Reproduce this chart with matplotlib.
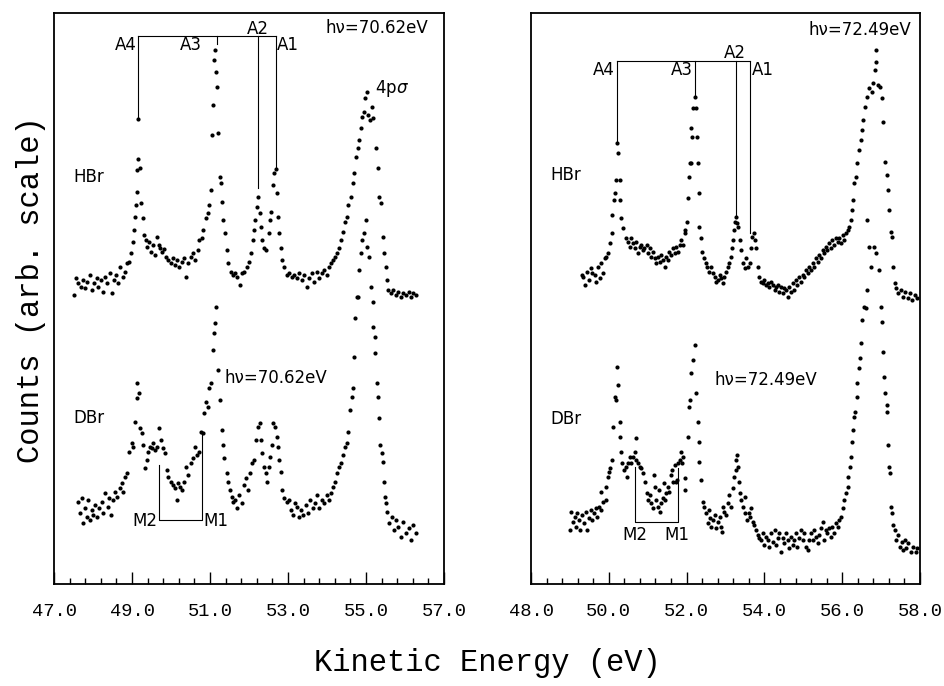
import matplotlib
matplotlib.use("Agg")
import matplotlib.pyplot as plt
from matplotlib.ticker import MultipleLocator, FormatStrFormatter

# ---- data: (kinetic energy eV, counts arb.) ----
hbr_left = [
    (47.50, 289), (47.56, 306), (47.62, 301), (47.68, 297), (47.75, 304), (47.79, 296),
    (47.85, 302), (47.92, 309), (47.97, 294), (48.03, 301), (48.09, 306), (48.14, 297),
    (48.20, 304), (48.26, 292), (48.31, 307), (48.37, 301), (48.44, 311), (48.48, 291),
    (48.54, 304), (48.59, 309), (48.65, 301), (48.69, 317), (48.76, 307), (48.82, 312),
    (48.88, 321), (48.93, 322), (48.97, 331), (49.02, 342), (49.06, 354), (49.08, 367),
    (49.10, 379), (49.12, 392), (49.14, 414), (49.16, 425), (49.15, 465), (49.21, 416),
    (49.24, 381), (49.27, 366), (49.31, 349), (49.36, 344), (49.39, 337), (49.44, 342),
    (49.49, 332), (49.55, 339), (49.59, 329), (49.63, 347), (49.68, 339), (49.72, 336),
    (49.77, 332), (49.82, 335), (49.87, 327), (49.93, 324), (49.99, 321), (50.04, 326),
    (50.10, 319), (50.15, 324), (50.21, 317), (50.27, 322), (50.33, 326), (50.38, 307),
    (50.44, 321), (50.50, 327), (50.56, 331), (50.62, 324), (50.68, 334), (50.73, 344),
    (50.79, 346), (50.83, 354), (50.89, 366), (50.94, 371), (50.98, 379), (51.02, 394),
    (51.04, 449), (51.07, 479), (51.10, 524), (51.13, 534), (51.15, 512), (51.19, 497),
    (51.21, 451), (51.26, 407), (51.28, 401), (51.32, 382), (51.34, 364), (51.38, 351),
    (51.43, 334), (51.47, 321), (51.53, 312), (51.58, 309), (51.64, 311), (51.70, 307),
    (51.77, 299), (51.83, 311), (51.88, 312), (51.94, 317), (52.00, 322), (52.04, 331),
    (52.09, 344), (52.13, 354), (52.16, 364), (52.20, 377), (52.24, 387), (52.27, 371),
    (52.30, 357), (52.34, 344), (52.38, 336), (52.44, 334), (52.50, 351), (52.54, 364),
    (52.57, 372), (52.61, 399), (52.65, 411), (52.68, 415), (52.72, 391), (52.75, 367),
    (52.78, 351), (52.81, 336), (52.85, 324), (52.90, 317), (52.97, 309), (53.03, 311),
    (53.09, 307), (53.15, 309), (53.22, 306), (53.28, 311), (53.35, 304), (53.41, 309),
    (53.48, 297), (53.55, 306), (53.61, 311), (53.67, 302), (53.74, 312), (53.80, 306),
    (53.86, 311), (53.92, 314), (53.99, 309), (54.04, 317), (54.09, 321), (54.15, 324),
    (54.20, 327), (54.25, 331), (54.31, 336), (54.36, 344), (54.42, 352), (54.46, 362),
    (54.50, 367), (54.55, 379), (54.61, 387), (54.66, 401), (54.69, 411), (54.74, 427),
    (54.79, 436), (54.83, 444), (54.87, 456), (54.91, 467), (54.95, 472), (54.98, 486),
    (55.03, 492), (55.06, 469), (55.10, 464), (55.15, 477), (55.19, 466), (55.26, 436),
    (55.31, 416), (55.34, 387), (55.38, 381), (55.43, 347), (55.47, 331), (55.50, 317),
    (55.53, 304), (55.57, 294), (55.63, 291), (55.70, 294), (55.77, 289), (55.83, 292),
    (55.89, 287), (55.96, 291), (56.03, 289), (56.09, 292), (56.15, 287), (56.21, 291),
    (56.28, 289),
]

dbr_left = [
    (47.62, 82), (47.67, 71), (47.71, 86), (47.75, 61), (47.79, 76), (47.84, 67),
    (47.88, 84), (47.92, 64), (47.97, 74), (48.01, 69), (48.05, 79), (48.11, 67),
    (48.16, 76), (48.22, 82), (48.26, 71), (48.32, 91), (48.38, 77), (48.42, 86),
    (48.46, 69), (48.52, 84), (48.57, 92), (48.62, 87), (48.68, 96), (48.74, 101),
    (48.78, 92), (48.82, 107), (48.88, 111), (48.93, 132), (48.99, 141), (49.03, 137),
    (49.08, 162), (49.12, 186), (49.14, 201), (49.17, 191), (49.21, 156), (49.25, 151),
    (49.29, 139), (49.33, 116), (49.38, 124), (49.42, 132), (49.46, 137), (49.50, 136),
    (49.55, 141), (49.59, 134), (49.63, 137), (49.70, 156), (49.74, 144), (49.79, 136),
    (49.85, 131), (49.89, 114), (49.93, 107), (49.99, 102), (50.04, 99), (50.10, 96),
    (50.15, 84), (50.19, 101), (50.23, 97), (50.27, 94), (50.33, 102), (50.38, 117),
    (50.44, 109), (50.50, 121), (50.56, 126), (50.62, 137), (50.66, 129), (50.72, 132),
    (50.76, 152), (50.81, 151), (50.85, 171), (50.90, 182), (50.94, 177), (50.98, 196),
    (51.02, 201), (51.07, 234), (51.10, 251), (51.13, 261), (51.15, 277), (51.21, 214),
    (51.26, 184), (51.30, 154), (51.33, 139), (51.37, 126), (51.43, 111), (51.47, 102),
    (51.51, 94), (51.56, 87), (51.60, 82), (51.64, 84), (51.70, 76), (51.75, 89),
    (51.81, 81), (51.87, 99), (51.92, 106), (51.98, 94), (52.03, 111), (52.08, 121),
    (52.13, 124), (52.18, 144), (52.22, 157), (52.27, 161), (52.30, 144), (52.34, 131),
    (52.38, 117), (52.43, 111), (52.47, 102), (52.50, 117), (52.54, 127), (52.58, 139),
    (52.62, 161), (52.67, 157), (52.71, 147), (52.75, 137), (52.78, 124), (52.81, 112),
    (52.85, 94), (52.91, 86), (52.97, 82), (53.03, 84), (53.08, 74), (53.14, 69),
    (53.18, 81), (53.22, 77), (53.28, 67), (53.33, 74), (53.39, 69), (53.45, 79),
    (53.50, 71), (53.56, 84), (53.63, 76), (53.69, 81), (53.75, 89), (53.80, 76),
    (53.86, 84), (53.92, 81), (53.99, 89), (54.04, 84), (54.09, 91), (54.15, 97),
    (54.20, 102), (54.25, 111), (54.31, 117), (54.36, 121), (54.42, 129), (54.46, 137),
    (54.50, 141), (54.55, 152), (54.59, 174), (54.63, 187), (54.66, 196), (54.69, 227),
    (54.72, 266), (54.76, 287), (54.80, 287), (54.83, 314), (54.88, 331), (54.91, 344),
    (54.95, 351), (54.99, 364), (55.03, 337), (55.08, 327), (55.12, 297), (55.17, 282),
    (55.19, 257), (55.23, 247), (55.24, 231), (55.27, 201), (55.32, 187), (55.34, 166),
    (55.36, 139), (55.40, 131), (55.44, 122), (55.45, 102), (55.49, 87), (55.51, 81),
    (55.53, 72), (55.60, 61), (55.66, 67), (55.72, 54), (55.77, 64), (55.83, 57),
    (55.89, 47), (55.96, 62), (56.03, 51), (56.09, 56), (56.15, 44), (56.21, 59),
    (56.28, 51),
]

hbr_right = [
    (49.30, 309), (49.34, 307), (49.38, 299), (49.44, 312), (49.50, 304), (49.53, 316),
    (49.58, 311), (49.64, 309), (49.68, 302), (49.73, 317), (49.77, 306), (49.81, 321),
    (49.85, 311), (49.90, 326), (49.94, 327), (49.98, 331), (50.03, 341), (50.07, 351),
    (50.09, 369), (50.13, 384), (50.15, 391), (50.18, 404), (50.21, 441), (50.24, 431),
    (50.28, 404), (50.30, 384), (50.32, 366), (50.37, 356), (50.44, 346), (50.50, 342),
    (50.54, 337), (50.58, 346), (50.62, 341), (50.67, 336), (50.71, 342), (50.75, 331),
    (50.79, 337), (50.84, 339), (50.88, 334), (50.91, 336), (50.97, 339), (51.01, 331),
    (51.05, 336), (51.09, 327), (51.14, 332), (51.18, 326), (51.22, 321), (51.26, 327),
    (51.31, 322), (51.35, 329), (51.39, 324), (51.44, 317), (51.48, 327), (51.52, 324),
    (51.56, 332), (51.61, 329), (51.65, 336), (51.69, 331), (51.74, 337), (51.78, 332),
    (51.82, 339), (51.86, 344), (51.91, 339), (51.95, 351), (51.97, 354), (52.01, 362),
    (52.03, 386), (52.06, 407), (52.09, 421), (52.12, 421), (52.15, 447), (52.12, 456),
    (52.16, 476), (52.21, 487), (52.25, 476), (52.26, 447), (52.29, 421), (52.32, 391),
    (52.33, 357), (52.37, 346), (52.40, 332), (52.44, 326), (52.49, 321), (52.52, 317),
    (52.57, 312), (52.62, 317), (52.68, 311), (52.72, 307), (52.76, 302), (52.80, 304),
    (52.85, 309), (52.89, 306), (52.93, 301), (52.97, 307), (53.02, 312), (53.06, 317),
    (53.10, 321), (53.15, 327), (53.17, 336), (53.19, 344), (53.22, 354), (53.25, 362),
    (53.27, 367), (53.29, 361), (53.33, 357), (53.36, 344), (53.40, 334), (53.45, 321),
    (53.49, 316), (53.53, 326), (53.57, 317), (53.62, 321), (53.66, 336), (53.68, 347),
    (53.72, 351), (53.75, 344), (53.79, 336), (53.83, 317), (53.87, 307), (53.91, 302),
    (53.96, 301), (54.00, 304), (54.04, 299), (54.09, 301), (54.13, 297), (54.17, 302),
    (54.21, 299), (54.26, 294), (54.30, 297), (54.34, 299), (54.38, 292), (54.43, 297),
    (54.47, 291), (54.51, 296), (54.56, 294), (54.60, 287), (54.64, 297), (54.68, 292),
    (54.73, 301), (54.77, 294), (54.81, 304), (54.85, 299), (54.90, 307), (54.94, 302),
    (54.98, 309), (55.03, 307), (55.07, 314), (55.11, 311), (55.15, 317), (55.20, 314),
    (55.24, 321), (55.28, 317), (55.32, 326), (55.37, 322), (55.41, 329), (55.45, 326),
    (55.50, 334), (55.54, 331), (55.58, 337), (55.62, 334), (55.67, 341), (55.71, 336),
    (55.75, 344), (55.79, 339), (55.84, 346), (55.88, 342), (55.92, 346), (55.97, 341),
    (56.01, 349), (56.05, 344), (56.09, 351), (56.14, 354), (56.18, 357), (56.22, 364),
    (56.25, 374), (56.28, 384), (56.31, 401), (56.35, 407), (56.39, 421), (56.44, 434),
    (56.48, 444), (56.50, 454), (56.54, 464), (56.59, 477), (56.65, 487), (56.69, 496),
    (56.76, 492), (56.79, 501), (56.85, 514), (56.86, 522), (56.88, 534), (56.93, 499),
    (56.97, 497), (57.02, 486), (57.05, 462), (57.11, 422), (57.14, 409), (57.17, 394),
    (57.21, 374), (57.25, 352), (57.28, 347), (57.31, 317), (57.36, 301), (57.39, 296),
    (57.44, 291), (57.50, 294), (57.56, 287), (57.62, 292), (57.68, 286), (57.74, 291),
    (57.80, 284), (57.87, 289), (57.93, 286),
]

dbr_right = [
    (49.00, 54), (49.04, 72), (49.09, 62), (49.13, 67), (49.15, 57), (49.19, 71),
    (49.24, 64), (49.27, 54), (49.32, 69), (49.36, 61), (49.41, 72), (49.44, 54),
    (49.50, 66), (49.53, 74), (49.58, 64), (49.62, 71), (49.67, 76), (49.70, 67),
    (49.75, 77), (49.79, 74), (49.81, 92), (49.85, 82), (49.92, 84), (49.94, 97),
    (49.98, 107), (50.01, 112), (50.04, 116), (50.09, 124), (50.11, 157), (50.15, 187),
    (50.18, 184), (50.20, 217), (50.24, 199), (50.28, 162), (50.30, 147), (50.32, 132),
    (50.35, 121), (50.38, 114), (50.44, 117), (50.47, 107), (50.50, 121), (50.54, 127),
    (50.58, 121), (50.62, 127), (50.67, 132), (50.69, 146), (50.71, 124), (50.75, 121),
    (50.79, 117), (50.84, 116), (50.88, 111), (50.92, 102), (50.97, 91), (51.01, 84),
    (51.05, 89), (51.09, 81), (51.14, 76), (51.15, 109), (51.18, 97), (51.22, 84),
    (51.26, 77), (51.29, 94), (51.31, 72), (51.35, 81), (51.39, 86), (51.41, 101),
    (51.44, 84), (51.48, 91), (51.52, 97), (51.56, 92), (51.61, 109), (51.63, 114),
    (51.65, 102), (51.69, 119), (51.72, 102), (51.75, 104), (51.78, 121), (51.82, 124),
    (51.86, 132), (51.89, 121), (51.92, 127), (51.95, 106), (51.97, 94), (52.03, 147),
    (52.06, 177), (52.08, 184), (52.12, 211), (52.16, 224), (52.21, 239), (52.25, 191),
    (52.29, 162), (52.32, 142), (52.33, 122), (52.38, 104), (52.42, 82), (52.46, 77),
    (52.50, 71), (52.55, 61), (52.57, 74), (52.61, 66), (52.63, 57), (52.68, 64),
    (52.72, 69), (52.76, 56), (52.80, 62), (52.85, 67), (52.89, 57), (52.91, 52),
    (52.93, 77), (52.97, 72), (53.02, 69), (53.06, 81), (53.10, 89), (53.15, 77),
    (53.19, 96), (53.23, 107), (53.26, 114), (53.27, 124), (53.29, 129), (53.32, 117),
    (53.34, 102), (53.38, 91), (53.40, 84), (53.44, 77), (53.49, 87), (53.51, 71),
    (53.55, 64), (53.60, 71), (53.63, 67), (53.66, 76), (53.70, 62), (53.74, 59),
    (53.79, 54), (53.83, 49), (53.87, 46), (53.91, 44), (53.96, 51), (54.00, 39),
    (54.04, 47), (54.09, 44), (54.13, 37), (54.17, 51), (54.21, 42), (54.26, 54),
    (54.30, 39), (54.34, 46), (54.38, 51), (54.43, 32), (54.47, 46), (54.51, 41),
    (54.56, 51), (54.60, 44), (54.64, 36), (54.68, 47), (54.73, 39), (54.77, 44),
    (54.81, 51), (54.85, 37), (54.90, 46), (54.94, 54), (54.98, 44), (55.03, 51),
    (55.07, 37), (55.11, 34), (55.15, 44), (55.20, 51), (55.24, 44), (55.28, 54),
    (55.32, 47), (55.37, 41), (55.41, 49), (55.45, 56), (55.50, 62), (55.54, 44),
    (55.58, 54), (55.62, 51), (55.67, 56), (55.71, 47), (55.75, 57), (55.79, 51),
    (55.84, 61), (55.88, 57), (55.92, 64), (55.97, 67), (56.01, 76), (56.05, 84),
    (56.09, 91), (56.14, 97), (56.16, 107), (56.20, 117), (56.22, 127), (56.25, 142),
    (56.28, 154), (56.31, 167), (56.33, 172), (56.37, 187), (56.39, 201), (56.42, 216),
    (56.45, 226), (56.48, 241), (56.52, 264), (56.56, 277), (56.60, 276), (56.63, 294),
    (56.64, 364), (56.69, 337), (56.74, 317), (56.82, 337), (56.86, 331), (56.95, 314),
    (56.99, 277), (57.03, 262), (57.05, 232), (57.08, 207), (57.10, 191), (57.14, 179),
    (57.16, 172), (57.19, 139), (57.21, 117), (57.22, 111), (57.25, 77), (57.27, 71),
    (57.31, 59), (57.36, 54), (57.39, 44), (57.44, 49), (57.48, 37), (57.53, 42),
    (57.56, 34), (57.62, 44), (57.65, 36), (57.70, 41), (57.76, 32), (57.82, 37),
    (57.89, 32), (57.93, 36),
]

# peak assignments: label -> (energy, top of marker line)
a_left = {"A4": (49.16, 465), "A3": (51.17, 540), "A2": (52.24, 396), "A1": (52.68, 417)}
a_right = {"A4": (50.21, 441), "A3": (52.21, 487), "A2": (53.26, 367), "A1": (53.64, 351)}
bracket_y = {"left": 548, "right": 523}
m_left = {"M2": (49.68, 119), "M1": (50.80, 152)}
m_right = {"M2": (50.67, 117), "M1": (51.77, 116)}
m_base = {"left": 64, "right": 62}

xlims = {"left": (47.0, 57.0), "right": (48.0, 58.0)}
photon = {"left": "70.62", "right": "72.49"}

mono = "Liberation Mono"
sans = "DejaVu Sans"

fig = plt.figure(figsize=(9.45, 6.86), dpi=100)
ax_l = fig.add_axes([54 / 945, 102 / 686, 390 / 945, 571 / 686])
ax_r = fig.add_axes([531 / 945, 102 / 686, 389 / 945, 571 / 686])

for ax, side in [(ax_l, "left"), (ax_r, "right")]:
    lo, hi = xlims[side]
    ax.set_xlim(lo, hi)
    ax.set_ylim(0, 571)
    ax.set_yticks([])
    # majors every 2 eV starting at the left limit, minors every 0.4 eV
    ax.xaxis.set_major_locator(MultipleLocator(2.0, offset=lo % 2.0))
    ax.xaxis.set_minor_locator(MultipleLocator(0.4, offset=round(lo % 0.4, 2)))
    ax.xaxis.set_major_formatter(FormatStrFormatter("%.1f"))
    ax.tick_params(axis="x", which="major", direction="in", length=8.5, width=1.0, pad=14)
    ax.tick_params(axis="x", which="minor", direction="in", length=4.3, width=1.0)
    for lab in ax.get_xticklabels():
        lab.set_fontfamily(mono)
        lab.set_fontsize(13.5)
    for sp in ax.spines.values():
        sp.set_linewidth(1.3)

# spectra
for ax, data in [(ax_l, hbr_left), (ax_l, dbr_left), (ax_r, hbr_right), (ax_r, dbr_right)]:
    ax.scatter([p[0] for p in data], [p[1] for p in data], s=9, c="black", linewidths=0)

# A bracket lines
lw = 0.8
for ax, marks, side in [(ax_l, a_left, "left"), (ax_r, a_right, "right")]:
    by = bracket_y[side]
    ax.plot([marks["A4"][0], marks["A1"][0]], [by, by], color="black", lw=lw)
    for name, (e, top) in marks.items():
        ax.plot([e, e], [by, top], color="black", lw=lw)

# M bracket lines
for ax, marks, side in [(ax_l, m_left, "left"), (ax_r, m_right, "right")]:
    base = m_base[side]
    ax.plot([marks["M2"][0], marks["M2"][0], marks["M1"][0], marks["M1"][0]],
            [marks["M2"][1], base, base, marks["M1"][1]], color="black", lw=lw)

fs = 12
# left panel labels
ax_l.text(56.59, 551, "h\u03bd=" + photon["left"] + "eV", ha="right", va="baseline", fontsize=fs, family=sans)
ax_l.text(49.12, 534, "A4", ha="right", va="baseline", fontsize=fs, family=sans)
ax_l.text(50.80, 534, "A3", ha="right", va="baseline", fontsize=fs, family=sans)
ax_l.text(52.22, 550, "A2", ha="center", va="baseline", fontsize=fs, family=sans)
ax_l.text(52.72, 534, "A1", ha="left", va="baseline", fontsize=fs, family=sans)
ax_l.text(55.23, 491, "4p$\\sigma$", ha="left", va="baseline", fontsize=fs, family=sans)
ax_l.text(47.49, 402, "HBr", ha="left", va="baseline", fontsize=fs, family=sans)
ax_l.text(47.49, 161, "DBr", ha="left", va="baseline", fontsize=fs, family=sans)
ax_l.text(51.38, 201, "h\u03bd=" + photon["left"] + "eV", ha="left", va="baseline", fontsize=fs, family=sans)
ax_l.text(49.64, 63, "M2", ha="right", va="center", fontsize=fs, family=sans)
ax_l.text(50.83, 63, "M1", ha="left", va="center", fontsize=fs, family=sans)

# right panel labels
ax_r.text(57.77, 549, "h\u03bd=" + photon["right"] + "eV", ha="right", va="baseline", fontsize=fs, family=sans)
ax_r.text(50.15, 509, "A4", ha="right", va="baseline", fontsize=fs, family=sans)
ax_r.text(52.15, 509, "A3", ha="right", va="baseline", fontsize=fs, family=sans)
ax_r.text(53.24, 526, "A2", ha="center", va="baseline", fontsize=fs, family=sans)
ax_r.text(53.69, 509, "A1", ha="left", va="baseline", fontsize=fs, family=sans)
ax_r.text(48.49, 404, "HBr", ha="left", va="baseline", fontsize=fs, family=sans)
ax_r.text(48.51, 160, "DBr", ha="left", va="baseline", fontsize=fs, family=sans)
ax_r.text(52.72, 199, "h\u03bd=" + photon["right"] + "eV", ha="left", va="baseline", fontsize=fs, family=sans)
ax_r.text(50.67, 58, "M2", ha="center", va="top", fontsize=fs, family=sans)
ax_r.text(51.74, 58, "M1", ha="center", va="top", fontsize=fs, family=sans)

fig.text(31 / 945, 1 - 290 / 686, "Counts (arb. scale)", rotation=90, ha="center", va="center",
         fontsize=22, family=mono)
fig.text(487 / 945, 1 - 663 / 686, "Kinetic Energy (eV)", ha="center", va="center",
         fontsize=22, family=mono)

fig.savefig("out.png", dpi=100)
